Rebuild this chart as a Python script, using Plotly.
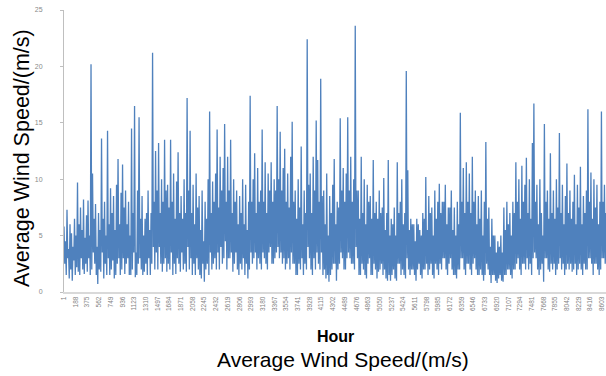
import plotly.graph_objects as go

# wind speed: one peak and one trough per day
daily_peak = [
    5.8, 4.5, 7.3, 3.8, 6.0, 5.2, 4.0, 6.5, 5.0, 9.7,
    6.0, 7.5, 5.5, 8.2, 4.8, 6.8, 8.1, 5.0, 20.2, 10.5,
    6.5, 7.8, 4.0, 7.0, 5.5, 13.6, 6.5, 8.0, 5.0, 14.3,
    6.0, 9.2, 7.0, 8.5, 5.5, 9.5, 11.8, 6.0, 8.8, 11.3,
    7.5, 9.0, 6.0, 8.0, 5.0, 14.5, 7.0, 16.5, 3.5, 9.0,
    15.5, 6.5, 8.5, 5.0, 6.5, 7.0, 9.0, 5.5, 7.0, 21.2,
    8.0, 12.5, 9.0, 13.2, 7.0, 10.0, 8.0, 13.5, 9.0, 9.5,
    7.5, 13.5, 8.0, 10.5, 6.5, 9.8, 12.4, 7.0, 8.5, 6.5,
    10.0, 7.0, 17.2, 9.0, 14.3, 7.0, 9.5, 6.0, 10.5, 7.5,
    8.5, 5.5, 9.0, 4.5, 8.0, 6.5, 10.0, 16.0, 7.0, 9.8,
    8.0, 10.5, 14.4, 7.5, 12.0, 9.0, 11.0, 14.9, 8.0, 12.0,
    9.0, 13.5, 7.0, 10.0, 8.0, 9.0, 6.0, 8.5, 7.0, 10.0,
    6.0, 9.5, 5.5, 8.0, 17.4, 8.0, 10.0, 12.3, 7.0, 11.0,
    8.0, 9.0, 14.4, 8.0, 11.5, 7.0, 10.5, 9.0, 11.5, 8.0,
    10.0, 9.0, 16.5, 10.0, 14.2, 9.0, 11.0, 12.7, 8.0, 10.5,
    7.5, 12.0, 15.1, 8.0, 9.0, 6.5, 10.0, 7.5, 12.9, 6.0,
    9.0, 7.0, 22.4, 9.5, 10.5, 7.0, 12.0, 9.0, 15.2, 11.7,
    8.0, 18.9, 8.5, 9.0, 6.0, 10.5, 5.0, 8.5, 7.0, 9.5,
    11.8, 6.0, 8.0, 7.5, 15.4, 9.0, 11.0, 8.0, 10.5, 15.5,
    9.0, 12.0, 8.0, 10.0, 23.6, 9.0, 9.0, 6.5, 12.0, 7.0,
    10.0, 6.0, 9.5, 8.0, 8.5, 6.5, 11.7, 7.0, 8.0, 6.5,
    9.0, 7.0, 7.5, 10.1, 5.5, 7.0, 11.7, 5.0, 6.5, 6.0,
    7.5, 5.0, 11.5, 7.0, 8.0, 10.0, 6.0, 7.0, 19.6, 10.8,
    5.5, 6.5, 6.0, 6.0, 4.5, 6.5, 6.0, 5.5, 5.0, 7.0,
    6.5, 10.2, 5.5, 8.5, 7.0, 7.5, 5.0, 9.0, 6.5, 8.0,
    9.6, 7.0, 8.0, 8.0, 9.5, 6.0, 7.5, 7.5, 9.0, 5.5,
    7.5, 5.0, 8.0, 6.0, 15.9, 8.0, 11.0, 7.0, 11.5, 8.0,
    10.5, 7.0, 12.0, 8.0, 9.0, 6.0, 8.5, 6.5, 9.0, 5.0,
    8.0, 13.3, 6.5, 7.5, 4.0, 6.5, 5.0, 5.0, 3.5, 4.5,
    4.0, 5.0, 3.5, 7.5, 5.5, 8.0, 6.0, 7.0, 5.0, 8.0,
    7.0, 11.5, 8.0, 10.0, 6.5, 11.2, 8.0, 9.5, 11.9, 7.0,
    10.0, 6.5, 13.2, 16.7, 8.0, 9.5, 6.0, 10.0, 7.0, 5.0,
    14.9, 8.0, 9.0, 6.5, 12.3, 7.0, 9.0, 6.5, 10.0, 7.5,
    14.1, 7.0, 9.5, 6.0, 8.5, 11.4, 7.0, 9.0, 6.5, 8.0,
    10.4, 6.0, 9.5, 7.5, 11.1, 6.0, 8.5, 7.0, 9.0, 16.2,
    8.0, 10.6, 6.5, 10.0, 7.5, 9.5, 6.0, 8.0, 16.0, 8.0,
    9.5, 7.0, 8.5, 7.5, 7.0,
]
daily_trough = [
    2.5, 1.5, 3.0, 1.2, 2.0, 1.0, 2.8, 1.5, 2.2, 1.8,
    1.5, 3.0, 2.0, 1.6, 2.5, 1.8, 3.0, 1.5, 2.0, 3.5,
    2.5, 1.5, 0.7, 2.0, 1.8, 3.5, 1.2, 2.5, 1.5, 3.0,
    1.5, 2.0, 2.8, 1.2, 1.5, 2.5, 3.0, 1.5, 2.0, 3.0,
    1.6, 2.5, 3.0, 1.5, 1.5, 2.0, 3.5, 1.3, 1.5, 2.5,
    3.0, 2.0, 1.5, 1.8, 2.5, 1.5, 3.0, 1.5, 2.5, 4.0,
    2.0, 3.5, 2.0, 4.0, 2.5, 1.8, 2.5, 3.0, 1.8, 2.5,
    2.0, 3.5, 1.5, 2.5, 1.6, 3.0, 2.5, 1.8, 3.5, 2.0,
    2.5, 1.8, 4.0, 2.0, 3.0, 1.5, 2.5, 1.5, 3.0, 2.0,
    1.5, 1.2, 2.5, 0.9, 2.0, 2.5, 1.5, 3.5, 2.0, 2.5,
    3.0, 2.0, 3.5, 2.0, 4.0, 2.5, 3.0, 4.5, 2.0, 3.0,
    3.0, 3.5, 1.8, 2.5, 3.5, 2.0, 1.5, 2.5, 2.0, 3.0,
    1.5, 2.5, 1.2, 2.0, 3.5, 2.5, 3.0, 3.5, 2.0, 3.0,
    2.5, 2.0, 3.5, 3.0, 2.5, 2.0, 3.5, 4.0, 2.5, 2.5,
    3.0, 3.5, 4.0, 3.0, 3.5, 2.5, 3.0, 2.0, 2.5, 3.0,
    2.0, 3.5, 2.5, 2.5, 1.5, 1.5, 2.5, 2.0, 3.0, 1.5,
    2.5, 2.0, 4.0, 3.0, 2.0, 1.5, 3.0, 2.0, 3.5, 2.5,
    2.0, 3.5, 1.5, 2.0, 1.2, 1.5, 0.9, 1.5, 2.0, 2.5,
    2.5, 1.0, 2.0, 2.5, 3.5, 3.0, 2.0, 2.0, 3.0, 3.5,
    3.0, 2.5, 2.5, 2.0, 4.0, 3.0, 1.5, 1.5, 2.5, 2.0,
    1.5, 1.2, 2.5, 3.0, 1.5, 1.5, 2.5, 2.0, 1.2, 1.8,
    2.0, 2.5, 1.5, 2.0, 1.2, 1.0, 1.5, 1.0, 1.5, 2.0,
    1.2, 1.0, 2.5, 2.5, 1.5, 2.0, 1.5, 1.2, 3.0, 2.0,
    1.5, 2.0, 2.0, 1.5, 1.0, 2.0, 2.5, 1.5, 1.2, 2.0,
    2.0, 2.5, 1.5, 2.0, 2.5, 1.5, 1.2, 2.5, 2.0, 1.5,
    2.5, 2.0, 3.0, 3.0, 2.0, 1.5, 2.5, 3.0, 2.0, 1.5,
    1.5, 1.2, 2.0, 2.0, 3.0, 3.0, 2.0, 1.5, 2.5, 2.5,
    2.0, 1.5, 2.5, 3.0, 2.0, 1.5, 1.5, 2.0, 1.5, 1.0,
    1.5, 2.5, 2.0, 1.5, 0.8, 1.5, 1.5, 1.0, 0.8, 1.2,
    1.5, 1.0, 0.9, 1.5, 1.5, 2.0, 2.0, 1.5, 1.2, 2.0,
    2.0, 2.5, 3.0, 2.0, 1.5, 2.5, 2.5, 2.0, 3.0, 2.0,
    2.5, 1.5, 3.0, 3.5, 3.0, 2.0, 1.5, 2.0, 2.5, 0.9,
    3.0, 3.0, 2.0, 1.8, 2.5, 2.0, 2.5, 1.5, 2.0, 2.5,
    3.0, 2.0, 2.5, 1.5, 2.0, 2.5, 2.0, 2.5, 1.8, 2.0,
    2.5, 1.5, 2.0, 2.5, 2.0, 1.5, 2.5, 2.0, 2.0, 3.0,
    3.0, 2.5, 1.5, 2.5, 2.5, 2.0, 1.5, 2.0, 3.0, 3.0,
    2.5, 2.0, 2.5, 3.0, 2.0,
]

x_ticks = [1, 188, 375, 562, 749, 936, 1123, 1310, 1497, 1684, 1871, 2058,
           2245, 2432, 2619, 2806, 2993, 3180, 3367, 3554, 3741, 3928, 4115,
           4302, 4489, 4676, 4863, 5050, 5237, 5424, 5611, 5798, 5985, 6172,
           6359, 6546, 6733, 6920, 7107, 7294, 7481, 7668, 7855, 8042, 8229,
           8416, 8603]
y_ticks = [0, 5, 10, 15, 20, 25]

# interleave: peak at start of each day, trough at mid-day
hours, speed = [], []
for d, (p, t) in enumerate(zip(daily_peak, daily_trough)):
    hours += [1 + 24 * d, 13 + 24 * d]
    speed += [p, t]

fig = go.Figure()
fig.add_trace(go.Scatter(
    x=hours, y=speed, mode="lines",
    line=dict(color="rgb(79,129,189)", width=1.3),
    hoverinfo="skip", showlegend=False,
))

title_font = "Liberation Sans, Arial, sans-serif"
fig.update_layout(
    width=606, height=376,
    margin=dict(l=64, r=0, t=10, b=84),
    paper_bgcolor="white", plot_bgcolor="white",
    font=dict(family=title_font),
    xaxis=dict(
        range=[1, 8666], tickvals=x_ticks, ticktext=[str(t) for t in x_ticks],
        tickangle=-90, tickfont=dict(size=6.5, color="#7f7f7f"),
        showgrid=False, zeroline=False, showline=True,
        linecolor="#d9d9d9", linewidth=2, ticks="",
    ),
    yaxis=dict(
        range=[0, 25], tickvals=y_ticks,
        tickfont=dict(size=7, color="#8a8a8a"),
        showgrid=False, zeroline=False, showline=True,
        linecolor="#bfbfbf", linewidth=1,
        ticks="outside", ticklen=3, tickcolor="#bfbfbf",
        ticklabelstandoff=16,
    ),
    annotations=[
        dict(text="Average Wind Speed/(m/s)", xref="paper", yref="paper",
             x=(22 - 64) / 542, y=(292 - 158) / 282, xanchor="center", yanchor="middle",
             textangle=-90, showarrow=False,
             font=dict(size=21.5, color="black", family=title_font)),
        dict(text="<b>Hour</b>", xref="paper", yref="paper",
             x=(335 - 64) / 542, y=-(336 - 292) / 282, xanchor="center", yanchor="middle",
             showarrow=False,
             font=dict(size=16, color="black", family=title_font)),
        dict(text="Average Wind Speed/(m/s)", xref="paper", yref="paper",
             x=(343 - 64) / 542, y=-(359 - 292) / 282, xanchor="center", yanchor="middle",
             showarrow=False,
             font=dict(size=21, color="black", family=title_font)),
    ],
)

fig.write_html("out.html")
